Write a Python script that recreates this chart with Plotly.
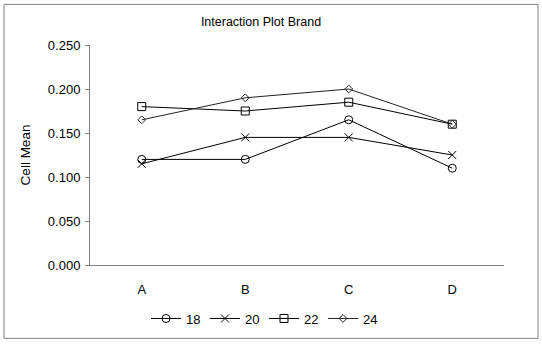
import plotly.graph_objects as go

categories = ["A", "B", "C", "D"]
series_names = ["18", "20", "22", "24"]
s18 = [0.120, 0.120, 0.165, 0.110]
s20 = [0.115, 0.145, 0.145, 0.125]
s22 = [0.180, 0.175, 0.185, 0.160]
s24 = [0.165, 0.190, 0.200, 0.160]
y_ticks = [0.0, 0.05, 0.10, 0.15, 0.20, 0.25]

series = [s18, s20, s22, s24]
symbols = ["circle-open", "x-thin-open", "square-open", "diamond-open"]
sizes = [8, 8, 8, 6]
colors = ["#000000", "#000000", "#000000", "#222222"]

fig = go.Figure()
for name, vals, sym, sz, col in zip(series_names, series, symbols, sizes, colors):
    fig.add_trace(go.Scatter(
        x=categories, y=vals, name=name, mode="lines+markers",
        line=dict(color=col, width=1),
        marker=dict(symbol=sym, size=sz, color=col, line=dict(color=col, width=1)),
    ))

L, R, T, B = 90, 38, 45, 78
W, H = 542, 345
pw, ph = W - L - R, H - T - B

fig.update_layout(
    width=W, height=H,
    margin=dict(l=L, r=R, t=T, b=B),
    paper_bgcolor="white", plot_bgcolor="white",
    font=dict(family="Liberation Sans, Arial", size=13, color="#000000"),
    title=dict(text="Interaction Plot Brand", x=(261) / W, xanchor="center",
               y=1 - 22 / H, yanchor="middle", font=dict(size=12.5)),
    showlegend=True,
    legend=dict(orientation="h", x=(264 - L) / pw, xanchor="center",
                y=-(321 - (T + ph)) / ph, yanchor="middle",
                font=dict(size=13), itemwidth=30, tracegroupgap=0,
                entrywidth=14, entrywidthmode="pixels"),
    xaxis=dict(type="category", range=[-0.5, 3.5], showgrid=False,
               showline=True, linecolor="#808080", linewidth=1,
               ticks="", ticklabelstandoff=12, zeroline=False),
    yaxis=dict(range=[0, 0.25], tickvals=y_ticks, tickformat=".3f",
               showgrid=False, showline=True, linecolor="#808080", linewidth=1,
               ticks="outside", ticklen=4, tickcolor="#808080",
               ticklabelstandoff=2,
               zeroline=False,
               title=dict(text="Cell Mean", standoff=14, font=dict(size=13.5))),
    shapes=[dict(type="rect", xref="paper", yref="paper",
                 x0=(4 - L) / pw, x1=(538 - L) / pw,
                 y0=(T + ph - 341) / ph, y1=(T + ph - 4) / ph,
                 line=dict(color="#808080", width=1), fillcolor="rgba(0,0,0,0)")],
)

fig.write_html("out.html")
